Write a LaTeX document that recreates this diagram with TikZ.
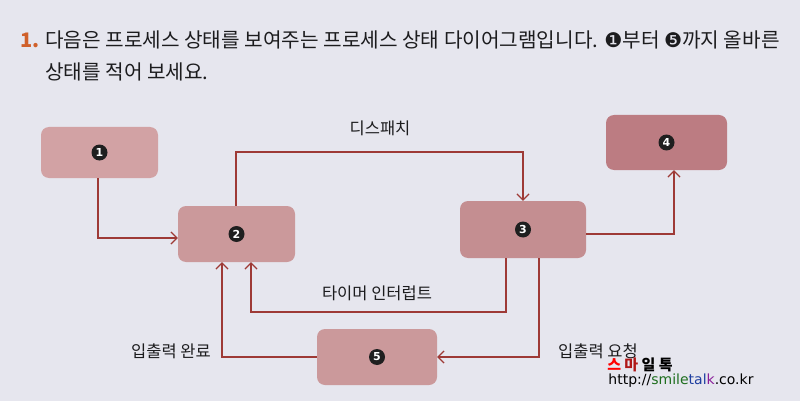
\documentclass[tikz,border=0pt]{standalone}
\usepackage{fontspec}
\setmainfont{Noto Sans CJK KR}
\newfontfamily\dejavu{DejaVu Sans}
\usetikzlibrary{arrows.meta}
\definecolor{bg}{HTML}{E6E6EE}
\definecolor{lineC}{HTML}{9E3A36}
\definecolor{numC}{HTML}{D0602A}
\definecolor{fA}{HTML}{D2A2A4}
\definecolor{fB}{HTML}{CB999B}
\definecolor{fC}{HTML}{C48E91}
\definecolor{fD}{HTML}{BC7C82}
\definecolor{txt}{HTML}{1C1C1E}
\tikzset{
  state/.style={draw=none, rounded corners=8pt, inner sep=0pt},
  num/.style={circle, fill=black!88, text=white, inner sep=0pt, minimum size=16pt, font=\dejavu\bfseries\fontsize{11}{11}\selectfont},
  arr/.style={draw=lineC, line width=1.25pt, -{Straight Barb[length=6pt,width=12pt,line width=1.25pt]}},
  lab/.style={text=txt, inner sep=0pt, font=\fontsize{16.5}{18}\selectfont},
  title/.style={text=txt, inner sep=0pt, anchor=west, font=\fontsize{20.2}{22}\selectfont}
}
\begin{document}
\begin{tikzpicture}[x=1pt,y=-1pt]
\fill[bg] (0,0) rectangle (800,401);
\useasboundingbox (0,0) rectangle (800,401);
% title
\node[title, text=numC, font=\bfseries\fontsize{20}{22}\selectfont] (tn) at (20,40) {1.};
\node[title] (t1) at (45,40) {다음은 프로세스 상태를 보여주는 프로세스 상태 다이어그램입니다. {\dejavu ❶}부터 {\dejavu ❺}까지 올바른};
\node[title] (t2) at (45,72) {상태를 적어 보세요.};
% states
\node[state, fill=fA, minimum width=117pt, minimum height=51pt] (b1) at (99.5,152.5) {};
\node[state, fill=fB, minimum width=117pt, minimum height=56pt] (b2) at (236.5,234) {};
\node[state, fill=fC, minimum width=126pt, minimum height=57pt] (b3) at (523,229.5) {};
\node[state, fill=fD, minimum width=121pt, minimum height=55pt] (b4) at (666.5,142.5) {};
\node[state, fill=fB, minimum width=120pt, minimum height=56pt] (b5) at (377,357) {};
\node[num] (n1) at (b1) {1};
\node[num] (n2) at (b2) {2};
\node[num] (n3) at (b3) {3};
\node[num] (n4) at (b4) {4};
\node[num] (n5) at (b5) {5};
% connectors
\draw[arr] ([xshift=-1.5pt]b1.south) |- ([yshift=-4pt]b2.west);
\draw[arr] ([xshift=-0.5pt]b2.north) -- ([xshift=-0.5pt]b2.north |- 0,152) -| (b3.north);
\draw[arr] ([yshift=-4.5pt]b3.east) -| ([xshift=7.5pt]b4.south);
\draw[arr] ([xshift=-17pt]b3.south) -- ([xshift=-17pt]b3.south |- 0,312) -| ([xshift=14.5pt]b2.south);
\draw[arr] ([xshift=16pt]b3.south) |- (b5.east);
\draw[arr] (b5.west) -| ([xshift=-14.5pt]b2.south);
% labels
\node[lab] (l1) at (380,128) {디스패치};
\node[lab] (l2) at (377,293) {타이머 인터럽트};
\node[lab] (l3) at (171,351) {입출력 완료};
\node[lab] (l4) at (598,351) {입출력 요청};
% watermark
\node[inner sep=0pt, font=\bfseries\fontsize{15}{17}\selectfont] (w1) at (640,365) {\textcolor{red}{스} \textcolor[HTML]{B01818}{마} 일 톡};
\node[inner sep=0pt, font=\dejavu\fontsize{14}{16}\selectfont] (w2) at (681,381) {http://\textcolor[HTML]{1E6E1E}{smile}\textcolor[HTML]{1E3EA0}{tal}\textcolor[HTML]{8A1E9A}{k}.co.kr};
\end{tikzpicture}
\end{document}
